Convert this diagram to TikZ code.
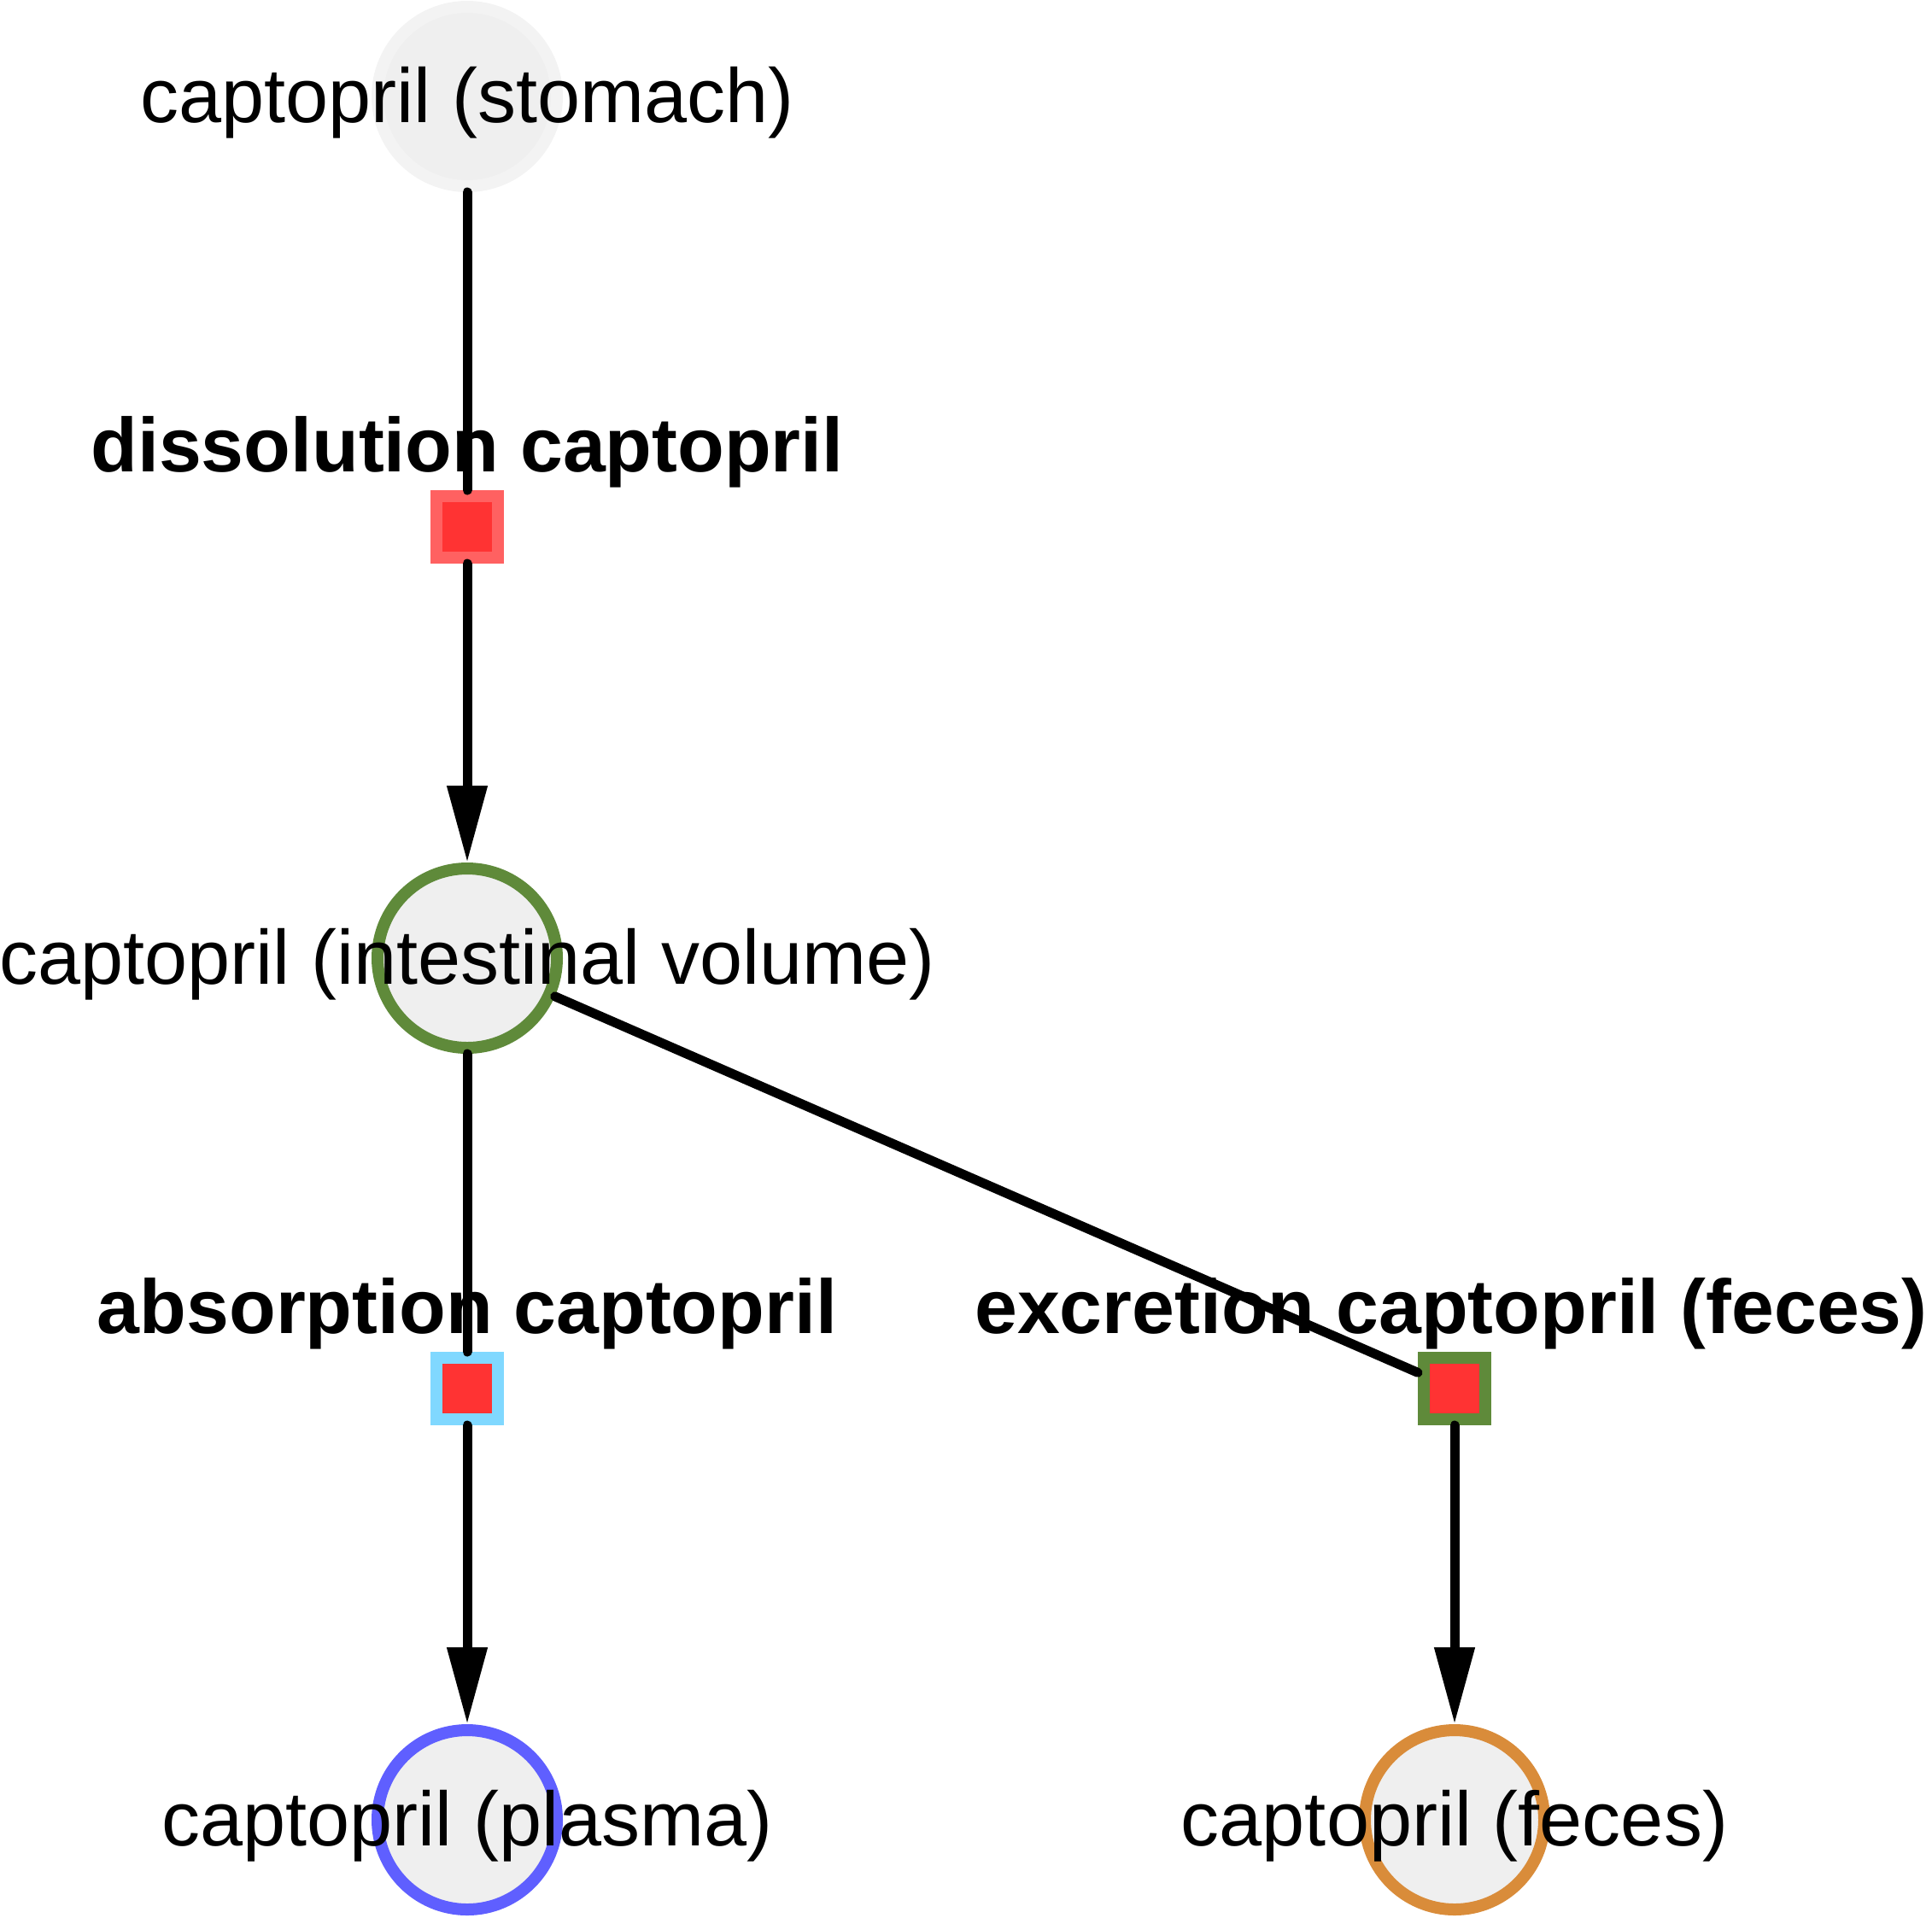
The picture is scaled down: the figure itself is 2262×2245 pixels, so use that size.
\documentclass[tikz,border=0pt]{standalone}
\usepackage{fontspec}
\setmainfont{Liberation Sans}
\usepackage{tikz}
\usetikzlibrary{positioning,arrows.meta}
\definecolor{circfill}{HTML}{EFEFEF}
\definecolor{stomachring}{HTML}{F3F3F3}
\definecolor{gutgreen}{HTML}{5F8A3A}
\definecolor{plasmablue}{HTML}{5F5FFF}
\definecolor{fecesorange}{HTML}{D98C3A}
\definecolor{rxnred}{HTML}{FF3333}
\definecolor{dissring}{HTML}{FF6161}
\definecolor{absring}{HTML}{80D8FF}

\begin{document}
\begin{tikzpicture}[x=0.5pt,y=-0.5pt,
  species/.style={circle, fill=circfill, line width=7pt, minimum size=105pt, inner sep=0pt},
  spname/.style={inner sep=0pt, font=\fontsize{45}{54}\selectfont, text height=32pt, text depth=2pt},
  reaction/.style={rectangle, fill=rxnred, line width=7pt, minimum size=36pt, inner sep=0pt},
  rxnlabel/.style={font=\fontsize{44.8}{54}\selectfont\bfseries, inner sep=0pt},
  flow/.style={line width=5.5pt, line cap=round},
  prod/.style={flow, -{Triangle[length=45pt, width=22.5pt]}}]
\useasboundingbox (0,0) rectangle (2262,2245);
% species
\node (stomach) [species, draw=stomachring] at (547,113) {};
\node (intest) [species, draw=gutgreen] at (547,1122) {};
\node (plasma) [species, draw=plasmablue] at (547,2131) {};
\node (feces) [species, draw=fecesorange] at (1703,2131) {};
\node (stomachtxt) [spname] at (stomach) {captopril (stomach)};
\node (intesttxt) [spname] at (intest) {captopril (intestinal volume)};
\node (plasmatxt) [spname] at (plasma) {captopril (plasma)};
\node (fecestxt) [spname] at (feces) {captopril (feces)};
% reactions
\node (diss) [reaction, draw=dissring] at (547,617) {};
\node (absorp) [reaction, draw=absring] at (547,1626) {};
\node (excr) [reaction, draw=gutgreen] at (1703,1626) {};
\node (disslbl) [rxnlabel, above=11pt of diss, anchor=base] {dissolution captopril};
\node (absorplbl) [rxnlabel, above=11pt of absorp, anchor=base] {absorption captopril};
\node (excrlbl) [rxnlabel, above=11pt of excr, anchor=base, xshift=-2pt] {excretion captopril (feces)};
% edges
\draw [flow] (stomach) -- (diss);
\draw [prod] (diss) -- (intest);
\draw [flow] (intest) -- (absorp);
\draw [prod] (absorp) -- (plasma);
\draw [flow] (intest) -- (excr);
\draw [prod] (excr) -- (feces);
\end{tikzpicture}
\end{document}
